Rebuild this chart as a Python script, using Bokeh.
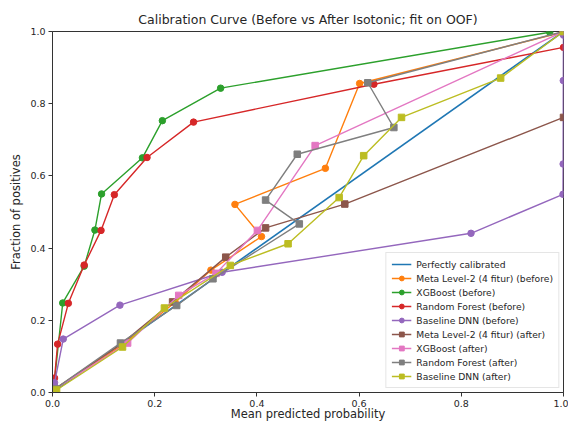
from bokeh.plotting import figure
from bokeh.models import Range1d, FixedTicker, PrintfTickFormatter
from bokeh.embed import file_html
from bokeh.resources import INLINE

# ---- data ----
perfect_x = [0.0, 1.0]
perfect_y = [0.0, 1.0]

meta_before_x = [0.005, 0.135, 0.24, 0.31, 0.409, 0.357, 0.534, 0.601, 0.998]
meta_before_y = [0.01, 0.13, 0.25, 0.339, 0.432, 0.521, 0.621, 0.856, 0.998]

xgb_before_x = [0.003, 0.020, 0.062, 0.083, 0.096, 0.176, 0.215, 0.329, 0.973]
xgb_before_y = [0.02, 0.248, 0.35, 0.45, 0.55, 0.65, 0.753, 0.843, 0.998]

rf_before_x = [0.004, 0.010, 0.031, 0.062, 0.095, 0.121, 0.185, 0.276, 0.629, 1.0]
rf_before_y = [0.04, 0.134, 0.247, 0.353, 0.449, 0.548, 0.651, 0.749, 0.854, 0.956]

dnn_before_x = [0.004, 0.021, 0.132, 0.332, 0.819, 0.9990, 0.9993, 0.9996, 0.9999]
dnn_before_y = [0.027, 0.148, 0.242, 0.333, 0.441, 0.549, 0.633, 0.864, 0.99]

meta_after_x = [0.005, 0.135, 0.235, 0.339, 0.417, 0.572, 1.0]
meta_after_y = [0.01, 0.135, 0.251, 0.375, 0.456, 0.522, 0.762]

xgb_after_x = [0.005, 0.147, 0.247, 0.32, 0.401, 0.514, 1.0]
xgb_after_y = [0.01, 0.137, 0.269, 0.33, 0.449, 0.684, 1.0]

rf_after_x = [0.005, 0.133, 0.243, 0.314, 0.483, 0.417, 0.479, 0.668, 0.617, 1.0]
rf_after_y = [0.01, 0.137, 0.241, 0.315, 0.467, 0.533, 0.66, 0.734, 0.858, 1.0]

dnn_after_x = [0.008, 0.137, 0.219, 0.348, 0.461, 0.561, 0.609, 0.683, 0.877, 1.0]
dnn_after_y = [0.007, 0.126, 0.234, 0.352, 0.412, 0.54, 0.656, 0.762, 0.871, 1.0]

tick_values = [0.0, 0.2, 0.4, 0.6, 0.8, 1.0]

series = [
    ("Meta Level-2 (4 fitur) (before)", meta_before_x, meta_before_y, "#ff7f0e", "circle"),
    ("XGBoost (before)", xgb_before_x, xgb_before_y, "#2ca02c", "circle"),
    ("Random Forest (before)", rf_before_x, rf_before_y, "#d62728", "circle"),
    ("Baseline DNN (before)", dnn_before_x, dnn_before_y, "#9467bd", "circle"),
    ("Meta Level-2 (4 fitur) (after)", meta_after_x, meta_after_y, "#8c564b", "square"),
    ("XGBoost (after)", xgb_after_x, xgb_after_y, "#e377c2", "square"),
    ("Random Forest (after)", rf_after_x, rf_after_y, "#7f7f7f", "square"),
    ("Baseline DNN (after)", dnn_after_x, dnn_after_y, "#bcbd22", "square"),
]

FONT = "DejaVu Sans"
TXT = "#262626"

p = figure(width=568, height=423, output_backend="svg", toolbar_location=None,
           x_range=Range1d(0, 1), y_range=Range1d(0, 1),
           min_border_left=52, min_border_right=5, min_border_top=31, min_border_bottom=30,
           title="Calibration Curve (Before vs After Isotonic; fit on OOF)")

p.title.align = "center"
p.title.text_font = FONT
p.title.text_font_size = "12.5px"
p.title.text_font_style = "normal"
p.title.text_color = TXT

p.xgrid.visible = False
p.ygrid.visible = False
p.outline_line_color = "#333333"
p.outline_line_width = 1

for ax in (p.xaxis[0], p.yaxis[0]):
    ax.ticker = FixedTicker(ticks=tick_values)
    ax.formatter = PrintfTickFormatter(format="%.1f")
    ax.minor_tick_line_color = None
    ax.major_tick_in = 0
    ax.major_tick_out = 4
    ax.major_tick_line_color = "#333333"
    ax.axis_line_color = "#333333"
    ax.major_label_text_font = FONT
    ax.major_label_text_font_size = "9.5px"
    ax.major_label_text_color = TXT
    ax.axis_label_text_font = FONT
    ax.axis_label_text_font_size = "11.5px"
    ax.axis_label_text_font_style = "normal"
    ax.axis_label_text_color = TXT
    ax.major_label_standoff = 3

p.xaxis[0].axis_label_standoff = -3
p.yaxis[0].axis_label_standoff = 4

p.xaxis.axis_label = "Mean predicted probability"
p.yaxis.axis_label = "Fraction of positives"

p.line(perfect_x, perfect_y, line_color="#1f77b4", line_width=1.6,
       legend_label="Perfectly calibrated")

for label, xs, ys, color, marker in series:
    p.line(xs, ys, line_color=color, line_width=1.4, legend_label=label)
    p.scatter(xs, ys, marker=marker, size=6.5, fill_color=color, line_color=color,
              legend_label=label)

lg = p.legend[0]
lg.location = "bottom_right"
lg.label_text_font = FONT
lg.label_text_font_size = "9.2px"
lg.label_text_color = TXT
lg.label_height = 11
lg.glyph_height = 12
lg.glyph_width = 20
lg.spacing = 2
lg.padding = 5
lg.margin = 4
lg.border_line_color = "#cccccc"
lg.background_fill_alpha = 0.85

open("out.html", "w").write(file_html(p, INLINE))
